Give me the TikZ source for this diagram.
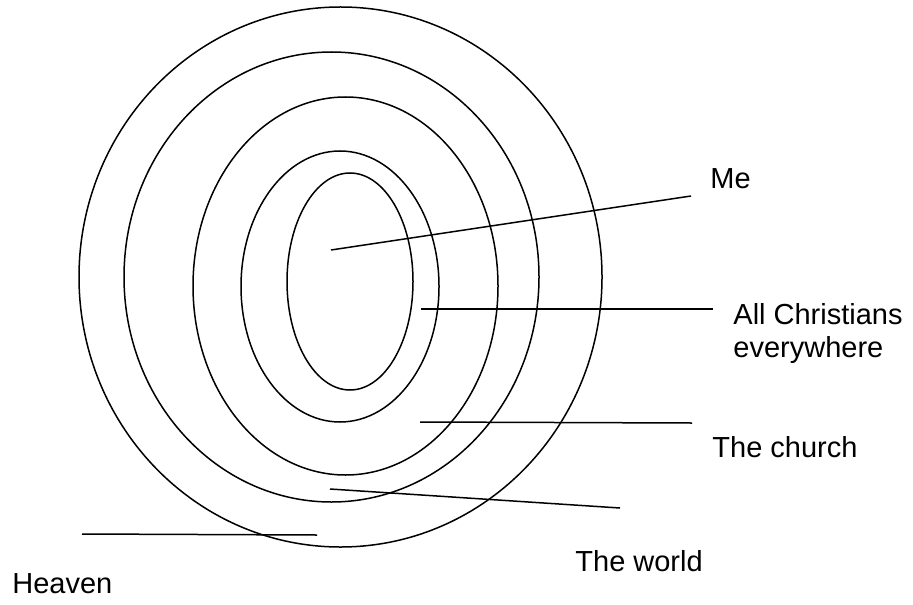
\documentclass[tikz,border=0pt]{standalone}
\usepackage{fontspec}
\setmainfont{Liberation Sans}

\begin{document}
\begin{tikzpicture}[
  x=0.5pt, y=-0.5pt,
  ring/.style={draw, line width=0.75pt},
  lead/.style={draw, line width=0.75pt},
  word/.style={anchor=base west, inner sep=0pt, align=left, font=\fontsize{14.5}{16.6}\selectfont}
]
\useasboundingbox (0,0) rectangle (913,604);

% rings, outside in
\draw[ring] (340.5,277) ellipse [x radius=261.5, y radius=270];
\draw[ring] (331.5,277) ellipse [x radius=207.5, y radius=225];
\draw[ring] (345.5,286) ellipse [x radius=152.5, y radius=189];
\draw[ring] (340,286.5) ellipse [x radius=99, y radius=135.5];
\draw[ring] (350,281.5) ellipse [x radius=63, y radius=108.5];

% labels
\node[word] (me) at (710,188) {Me};
\node[word, anchor=north west] (christians) at (733,303) {All Christians\\everywhere};
\node[word] (church) at (712,457) {The church};
\node[word] (world) at (575,571) {The world};
\node[word] (heaven) at (12,593) {Heaven};

% leader lines
\coordinate (meA) at (331,250);
\coordinate (meB) at (691,196);
\coordinate (christiansA) at (421,309);
\coordinate (christiansB) at (713,309);
\coordinate (churchA) at (420,422);
\coordinate (churchB) at (692,423);
\coordinate (worldA) at (330,489);
\coordinate (worldB) at (620,508);
\coordinate (heavenA) at (82,534);
\coordinate (heavenB) at (317,535);

\draw[lead] (meA) -- (meB);
\draw[lead] (christiansA) -- (christiansB);
\draw[lead] (churchA) -- (churchB);
\draw[lead] (worldA) -- (worldB);
\draw[lead] (heavenA) -- (heavenB);
\end{tikzpicture}
\end{document}
